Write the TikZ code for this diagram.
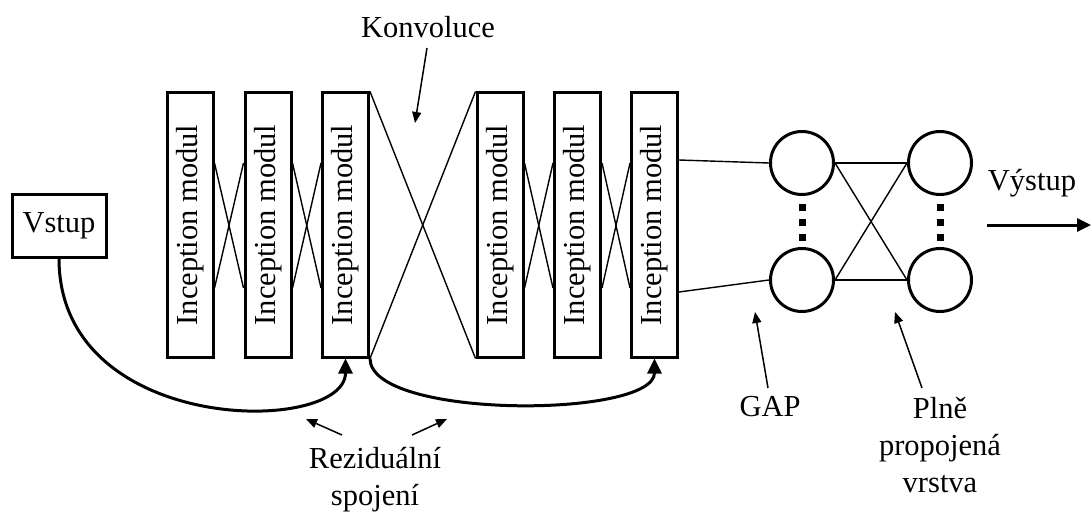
\documentclass[tikz,border=0pt]{standalone}
\usepackage{fontspec}
\setmainfont{Liberation Serif}
\usetikzlibrary{arrows.meta,calc}
\begin{document}
\begin{tikzpicture}[x=1pt,y=-1pt,
  txt/.style={font=\fontsize{30.5}{37}\selectfont, inner sep=0pt, align=center},
  modbox/.style={draw, line width=3pt, minimum width=46pt, minimum height=264pt, inner sep=0pt,
     label={[txt,rotate=90]center:Inception modul}},
  inbox/.style={draw, line width=3pt, minimum width=94pt, minimum height=63pt, inner sep=0pt, txt},
  neuron/.style={draw, circle, line width=3pt, minimum size=63pt, inner sep=0pt},
  thin/.style={line width=1.4pt},
  resid/.style={line width=3pt, -{Triangle[length=15pt,width=14pt]}},
  note/.style={line width=1.5pt, -{Triangle[length=11pt,width=9pt]}},
  dot/.style={fill=black}
]
\useasboundingbox (0,0) rectangle (1092,516);

% input
\node[inbox] (v) at (59,225.5) {Vstup};

% inception modules
\node[modbox] (b1) at (190,225) {};
\node[modbox] (b2) at (268,225) {};
\node[modbox] (b3) at (345.5,225) {};
\node[modbox] (b4) at (500,225) {};
\node[modbox] (b5) at (577.5,225) {};
\node[modbox] (b6) at (654.5,225) {};

% crossings between modules
\foreach \a/\b in {b1/b2,b2/b3,b4/b5,b5/b6}{
  \draw[thin] ([yshift=62pt]\a.east) -- ([yshift=-63pt]\b.west);
  \draw[thin] ([yshift=-63pt]\a.east) -- ([yshift=62pt]\b.west);
}
\draw[thin] (b3.north east) -- (b4.south west);
\draw[thin] (b3.south east) -- (b4.north west);

% neurons
\node[neuron] (g1) at (802,163) {};
\node[neuron] (g2) at (802,280) {};
\node[neuron] (f1) at (940,163) {};
\node[neuron] (f2) at (940,280) {};
\foreach \x in {802,940}{
  \foreach \y in {207,222,237}{
    \fill[dot] (\x-3.5,\y-3.5) rectangle (\x+3.5,\y+3.5);
  }
}
\draw[thin] ([yshift=65pt]b6.east) -- (g1.west);
\draw[thin] ([yshift=-67pt]b6.east) -- (g2.west);
\draw[thin] (g1.east) -- (f1.west);
\draw[thin] (g2.east) -- (f2.west);
\draw[thin] (g1.east) -- (f2.west);
\draw[thin] (g2.east) -- (f1.west);

% output
\coordinate (o1) at (987,225);
\coordinate (o2) at (1091,225);
\draw[line width=3pt, -{Triangle[length=14pt,width=13pt]}] (o1) -- (o2);
\node[txt] (out) at (1032,183) {Výstup};

% residual connections
\draw[resid] (v.south) .. controls +(0,178) and +(0,77) .. (b3.south);
\draw[resid] (b3.south east) .. controls +(0,61) and +(0,60) .. (b6.south);

% labels
\node[txt] (konv) at (428,27) {Konvoluce};
\coordinate (k1) at (427,48);
\coordinate (k2) at (415,123);
\draw[note] (k1) -- (k2);

\node[txt] (rez) at (375,480) {Reziduální\\spojení};
\coordinate (r0) at (342,435);
\coordinate (r1) at (306,419);
\coordinate (r2) at (412,435);
\coordinate (r3) at (447,419);
\draw[note] (r0) -- (r1);
\draw[note] (r2) -- (r3);

\node[txt] (gap) at (770,407) {GAP};
\coordinate (ga) at (768,388);
\coordinate (gb) at (755,312);
\draw[note] (ga) -- (gb);

\node[txt] (fc) at (940,445) {Plně\\propojená\\vrstva};
\coordinate (fa) at (922,388);
\coordinate (fb) at (895,312);
\draw[note] (fa) -- (fb);
\end{tikzpicture}
\end{document}
